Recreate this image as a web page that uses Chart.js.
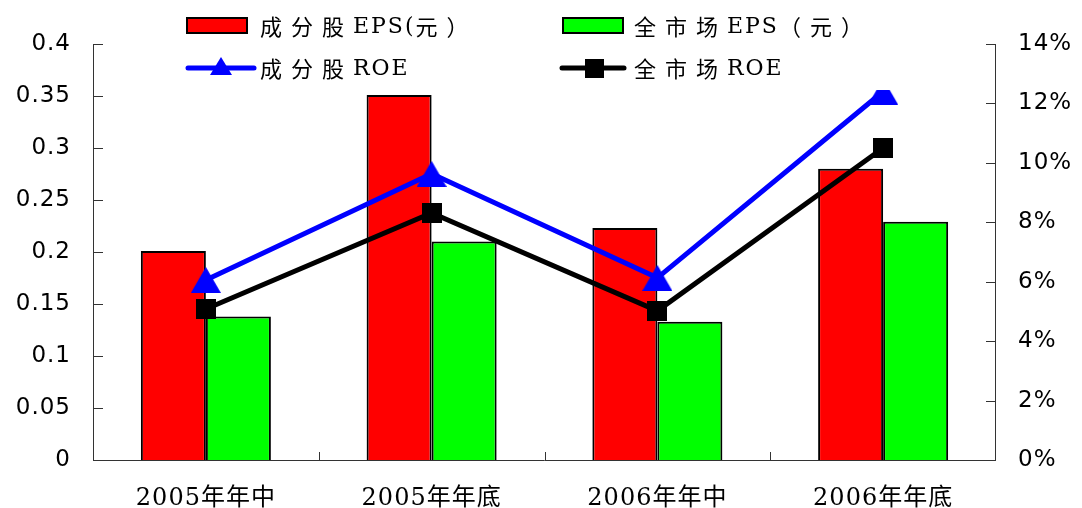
<!DOCTYPE html>
<html>
<head>
<meta charset="utf-8">
<script src="https://cdn.jsdelivr.net/npm/chart.js@4.4.1/dist/chart.umd.min.js"></script>
<style>
html,body{margin:0;padding:0;background:#fff;}
canvas{display:block;}
</style>
</head>
<body>
<canvas id="c" width="1082" height="508"></canvas>
<script>
const categories = ['2005年年中', '2005年年底', '2006年年中', '2006年年底'];
const epsConstituents = [0.201, 0.351, 0.223, 0.280];
const epsMarket = [0.138, 0.210, 0.133, 0.229];
const roeConstituents = [6.06, 9.63, 6.13, 12.4];
const roeMarket = [5.08, 8.31, 5.02, 10.5];
const seriesLabels = ['成分股EPS(元）', '全市场EPS（元）', '成分股ROE', '全市场ROE'];
const leftAxis = {min: 0, max: 0.4, step: 0.05};
const rightAxis = {min: 0, max: 14, step: 2};

function makeTriangle(w, h, color) {
  const c = document.createElement('canvas');
  c.width = w; c.height = h;
  const g = c.getContext('2d');
  g.fillStyle = color;
  g.beginPath();
  g.moveTo(0, h); g.lineTo(w / 2, 0); g.lineTo(w, h); g.closePath();
  g.fill();
  return c;
}
function makeSquare(s, color) {
  const c = document.createElement('canvas');
  c.width = s; c.height = s;
  const g = c.getContext('2d');
  g.fillStyle = color;
  g.fillRect(0, 0, s, s);
  return c;
}
const triBig = makeTriangle(30, 26, '#0000FF');
const sqBig = makeSquare(20, '#000000');
const triSmall = makeTriangle(22, 18, '#0000FF');
const sqSmall = makeSquare(19, '#000000');

function isCJK(ch) { return ch.charCodeAt(0) > 0x2E80; }
function drawSpaced(ctx, text, x, y) {
  for (const ch of text) {
    if (isCJK(ch)) {
      ctx.font = "22px 'Noto Sans CJK SC'";
      ctx.fillText(ch, x, y);
      x += 31;
    } else {
      ctx.font = "22px 'DejaVu Serif'";
      ctx.fillText(ch, x, y);
      x += ctx.measureText(ch).width + 2;
    }
  }
}

const decorPlugin = {
  id: 'decor',
  beforeDraw(chart) {
    chart.ctx.letterSpacing = '1px';
  },
  afterDatasetsDraw(chart) {
    const ctx = chart.ctx;
    const a = chart.chartArea;
    const y = chart.scales.y, y1 = chart.scales.y1, x = chart.scales.x;
    ctx.save();
    ctx.letterSpacing = '0px';
    ctx.strokeStyle = '#333333';
    ctx.lineWidth = 1;
    ctx.beginPath();
    ctx.moveTo(a.left + 0.5, a.top); ctx.lineTo(a.left + 0.5, a.bottom + 0.5);
    ctx.moveTo(a.left, a.bottom + 0.5); ctx.lineTo(a.right, a.bottom + 0.5);
    ctx.moveTo(a.right - 0.5, a.top); ctx.lineTo(a.right - 0.5, a.bottom + 0.5);
    y.ticks.forEach((t, i) => {
      const py = Math.round(y.getPixelForTick(i)) + 0.5;
      ctx.moveTo(a.left, py); ctx.lineTo(a.left + 10, py);
    });
    y1.ticks.forEach((t, i) => {
      const py = Math.round(y1.getPixelForTick(i)) + 0.5;
      ctx.moveTo(a.right, py); ctx.lineTo(a.right - 10, py);
    });
    for (let i = 0; i < categories.length - 1; i++) {
      const px = Math.round((x.getPixelForValue(i) + x.getPixelForValue(i + 1)) / 2) + 0.5;
      ctx.moveTo(px, a.bottom); ctx.lineTo(px, a.bottom - 8);
    }
    ctx.stroke();

    // opaque legend box
    ctx.fillStyle = '#ffffff';
    ctx.fillRect(180, 0, 725, 90);

    const ds = chart.data.datasets;
    ctx.textBaseline = 'middle';
    ctx.textAlign = 'left';
    ctx.lineWidth = 2;
    ctx.strokeStyle = '#000';
    ctx.fillStyle = ds[0].backgroundColor;
    ctx.fillRect(187, 18, 60, 15); ctx.strokeRect(187, 18, 60, 15);
    ctx.fillStyle = ds[1].backgroundColor;
    ctx.fillRect(563, 18, 60, 15); ctx.strokeRect(563, 18, 60, 15);
    ctx.fillStyle = '#000';
    drawSpaced(ctx, ds[0].label, 260, 27);
    drawSpaced(ctx, ds[1].label, 634, 27);
    ctx.lineCap = 'round';
    ctx.lineWidth = 5;
    ctx.strokeStyle = ds[2].borderColor;
    ctx.beginPath(); ctx.moveTo(188, 68); ctx.lineTo(254, 68); ctx.stroke();
    ctx.drawImage(triSmall, 221 - 11, 68 - 11);
    ctx.strokeStyle = ds[3].borderColor;
    ctx.beginPath(); ctx.moveTo(562, 68); ctx.lineTo(624, 68); ctx.stroke();
    ctx.drawImage(sqSmall, 594 - 9.5, 68 - 9.5);
    ctx.fillStyle = '#000';
    drawSpaced(ctx, ds[2].label, 260, 69);
    drawSpaced(ctx, ds[3].label, 634, 69);
    ctx.restore();
  },
  afterDraw(chart) {
    chart.ctx.letterSpacing = '0px';
  }
};

new Chart(document.getElementById('c'), {
  data: {
    labels: categories,
    datasets: [
      {type: 'bar', label: seriesLabels[0], data: epsConstituents, backgroundColor: '#FF0000', borderColor: '#000', borderWidth: 2, yAxisID: 'y', order: 2, categoryPercentage: 0.576, barPercentage: 1.0},
      {type: 'bar', label: seriesLabels[1], data: epsMarket, backgroundColor: '#00FF00', borderColor: '#000', borderWidth: 2, yAxisID: 'y', order: 2, categoryPercentage: 0.576, barPercentage: 1.0},
      {type: 'line', label: seriesLabels[2], data: roeConstituents, borderColor: '#0000FF', backgroundColor: '#0000FF', borderWidth: 5, pointStyle: triBig, pointRadius: 12, tension: 0, fill: false, yAxisID: 'y1', order: 1},
      {type: 'line', label: seriesLabels[3], data: roeMarket, borderColor: '#000000', backgroundColor: '#000000', borderWidth: 5, pointStyle: sqBig, pointRadius: 10, tension: 0, fill: false, yAxisID: 'y1', order: 0}
    ]
  },
  options: {
    responsive: false,
    animation: false,
    devicePixelRatio: 1,
    layout: {padding: {top: 44, left: 0, right: 0, bottom: 0}},
    plugins: {legend: {display: false}, tooltip: {enabled: false}},
    scales: {
      x: {
        type: 'category',
        grid: {display: false, drawTicks: false},
        border: {display: false},
        ticks: {color: '#000', padding: 24, maxRotation: 0, font: {family: "'DejaVu Serif', 'Noto Sans CJK SC'", size: 24}},
        afterFit(s) { s.height = 48; }
      },
      y: {
        type: 'linear', position: 'left',
        min: leftAxis.min, max: leftAxis.max,
        grid: {display: false, drawTicks: false},
        border: {display: false},
        ticks: {stepSize: leftAxis.step, color: '#000', padding: 22, font: {family: "'DejaVu Sans'", size: 23},
          callback: v => String(Number(v.toFixed(2)))},
        afterFit(s) { s.width = 93; }
      },
      y1: {
        type: 'linear', position: 'right',
        min: rightAxis.min, max: rightAxis.max,
        grid: {display: false, drawTicks: false},
        border: {display: false},
        ticks: {stepSize: rightAxis.step, color: '#000', padding: 22, font: {family: "'DejaVu Sans'", size: 23},
          callback: v => Math.round(v) + '%'},
        afterFit(s) { s.width = 86; }
      }
    }
  },
  plugins: [decorPlugin]
});
</script>
</body>
</html>
